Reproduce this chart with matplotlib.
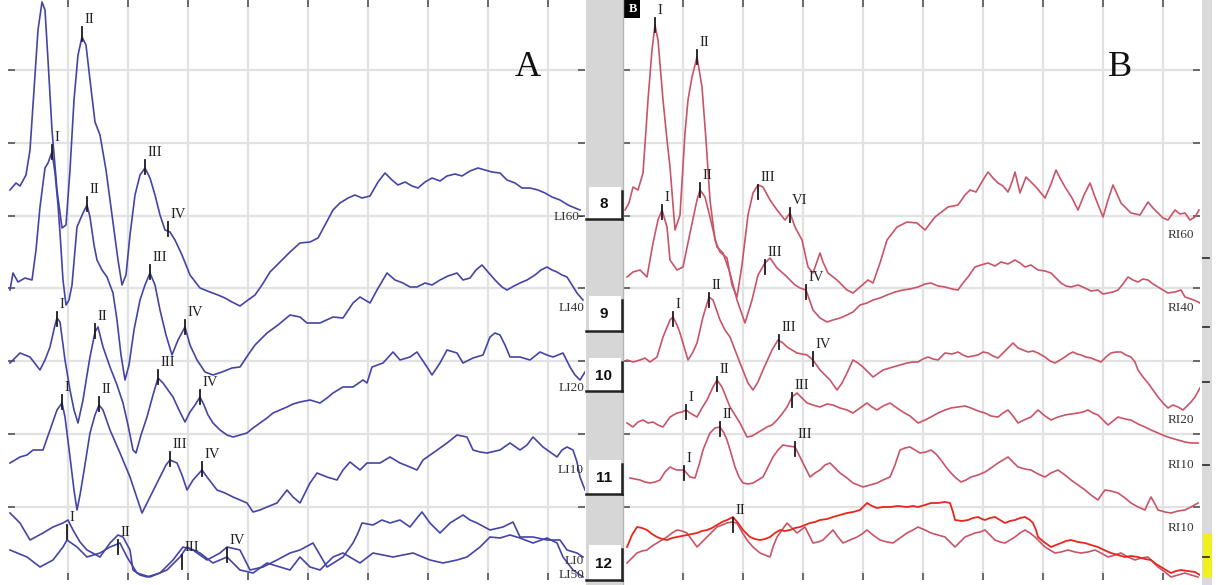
import numpy as np
import matplotlib
matplotlib.use("Agg")
import matplotlib.pyplot as plt
from matplotlib.patches import Rectangle

# sampling: 60 samples per ms, amplitude in uV
FS = 60.0

# ---------------- panel A (left ear) : (sample, uV) ----------------
LI60 = [(2,3.90),(8,3.97),(12,3.94),(18,4.05),(22,4.30),(26,4.90),(30,5.50),(34,5.78),(37,5.70),(40,5.20),
        (44,4.50),(49,3.90),(54,3.52),(58,3.55),(62,4.10),(66,4.80),(70,5.25),(74,5.43),(78,5.35),(82,5.00),
        (87,4.58),(92,4.45),(98,4.10),(104,3.65),(110,3.20),(114,2.95),(118,3.05),(122,3.45),(127,3.85),(132,4.05),
        (137,4.12),(142,4.02),(147,3.85),(152,3.65),(157,3.50),(162,3.48),(167,3.40),(174,3.25),(182,3.05),(192,2.92),
        (202,2.88),(210,2.85),(217,2.82),(224,2.78),(232,2.74),(240,2.80),(247,2.85),(254,2.95),(262,3.08),(272,3.18),
        (282,3.28),(292,3.37),(302,3.38),(310,3.42),(317,3.55),(325,3.70),(332,3.77),(340,3.82),(347,3.85),(354,3.82),
        (362,3.84),(370,3.98),(377,4.07),(384,4.00),(390,3.95),(397,3.98),(404,3.94),(410,3.92),(417,3.98),(424,4.02),
        (432,3.99),(439,4.04),(447,4.06),(454,4.04),(462,4.09),(470,4.12),(477,4.10),(484,4.08),(492,4.07),(499,4.00),
        (507,3.97),(514,3.92),(522,3.92),(530,3.90),(537,3.87),(544,3.83),(552,3.80),(560,3.75),(567,3.72),(572,3.70)]

LI40 = [(2,2.90),(5,3.07),(10,2.98),(17,3.02),(24,3.00),(28,3.30),(32,3.73),(37,4.12),(40,4.17),(44,4.28),
        (47,4.07),(50,3.75),(52,3.47),(55,3.00),(58,2.75),(61,2.80),(64,2.95),(69,3.53),(75,3.67),(79,3.75),
        (82,3.63),(86,3.35),(89,3.20),(94,3.10),(99,3.03),(105,2.87),(109,2.60),(113,2.25),(117,2.00),(121,2.15),
        (126,2.50),(132,2.80),(137,2.95),(142,3.07),(147,2.95),(152,2.70),(158,2.45),(164,2.25),(170,2.40),(177,2.53),
        (182,2.35),(189,2.20),(197,2.08),(205,2.05),(214,2.08),(224,2.12),(232,2.13),(240,2.25),(247,2.35),(259,2.47),
        (270,2.55),(282,2.65),(292,2.63),(299,2.57),(312,2.57),(325,2.63),(335,2.62),(345,2.77),(352,2.83),(362,2.77),
        (369,2.90),(379,3.07),(387,3.00),(395,2.97),(402,2.93),(409,2.93),(417,2.97),(424,2.95),(432,3.00),(440,3.04),
        (449,3.07),(455,3.00),(462,3.02),(468,3.10),(474,3.15),(480,3.08),(487,3.00),(494,2.93),(499,2.90),(506,2.94),
        (512,2.97),(519,3.00),(527,3.05),(533,3.10),(539,3.13),(544,3.10),(549,3.08),(554,3.05),(559,3.03),(564,2.95),
        (569,2.87),(575,2.80)]

LI20 = [(2,2.17),(12,2.27),(22,2.23),(32,2.10),(37,2.20),(42,2.33),(47,2.55),(49,2.62),(52,2.58),(57,2.20),
        (62,1.90),(66,1.70),(70,1.57),(75,1.80),(79,2.05),(82,2.23),(87,2.48),(90,2.53),(95,2.33),(102,2.13),
        (109,1.95),(115,1.77),(120,1.55),(125,1.30),(128,1.27),(133,1.45),(139,1.63),(145,1.85),(150,2.02),(155,1.97),
        (160,1.90),(165,1.83),(171,1.70),(177,1.58),(182,1.68),(187,1.75),(192,1.83),(196,1.75),(200,1.65),(205,1.57),
        (212,1.50),(219,1.45),(225,1.43),(232,1.45),(239,1.47),(245,1.52),(252,1.57),(259,1.62),(265,1.67),(272,1.70),
        (279,1.73),(285,1.76),(292,1.78),(302,1.80),(312,1.77),(319,1.82),(325,1.87),(335,1.93),(345,1.93),(355,2.00),
        (359,1.97),(364,2.13),(375,2.17),(385,2.28),(392,2.20),(402,2.23),(409,2.28),(419,2.13),(424,2.05),(432,2.17),
        (439,2.30),(449,2.27),(455,2.17),(465,2.22),(475,2.25),(482,2.43),(487,2.47),(492,2.45),(497,2.35),(502,2.23),
        (512,2.23),(522,2.20),(532,2.28),(539,2.25),(545,2.23),(555,2.27),(562,2.13),(567,2.05),(572,2.00),(577,2.08)]

LI10 = [(2,1.17),(12,1.23),(19,1.25),(25,1.30),(35,1.30),(42,1.50),(49,1.70),(54,1.77),(57,1.63),(62,1.23),
        (66,0.90),(69,0.70),(72,0.85),(75,1.03),(82,1.47),(87,1.65),(91,1.75),(95,1.70),(102,1.50),(112,1.27),
        (122,1.03),(128,0.85),(134,0.67),(142,0.83),(152,1.03),(158,1.15),(162,1.20),(169,1.17),(174,1.05),(179,0.90),
        (185,1.00),(194,1.10),(199,1.03),(209,0.90),(217,0.87),(225,0.83),(232,0.80),(239,0.77),(245,0.68),(252,0.70),
        (259,0.73),(269,0.77),(279,0.90),(285,0.83),(292,0.77),(297,0.87),(302,0.97),(309,1.07),(319,1.03),(329,1.00),
        (335,1.10),(342,1.18),(347,1.14),(352,1.10),(359,1.17),(372,1.17),(382,1.23),(392,1.17),(402,1.13),(409,1.10),
        (415,1.20),(425,1.27),(432,1.32),(439,1.37),(449,1.45),(459,1.43),(465,1.30),(472,1.28),(479,1.27),(492,1.30),
        (502,1.37),(512,1.30),(519,1.35),(525,1.43),(535,1.33),(542,1.28),(549,1.23),(554,1.30),(559,1.33),(565,1.30),
        (569,1.18),(572,1.03),(577,0.90)]

LI0 = [(2,0.67),(12,0.57),(22,0.40),(35,0.47),(45,0.53),(55,0.57),(60,0.60),(65,0.50),(72,0.38),(79,0.30),
       (92,0.23),(102,0.37),(110,0.45),(115,0.43),(122,0.30),(125,0.10),(132,0.05),(139,0.03),(152,0.07),(165,0.20),
       (175,0.33),(185,0.30),(199,0.20),(212,0.27),(219,0.33),(232,0.30),(242,0.10),(255,0.13),(269,0.20),(282,0.27),
       (292,0.30),(305,0.37),(312,0.25),(319,0.13),(327,0.18),(335,0.23),(345,0.37),(350,0.47),(354,0.57),(365,0.55),
       (374,0.60),(382,0.57),(392,0.60),(402,0.53),(409,0.62),(414,0.68),(422,0.57),(432,0.47),(442,0.57),(455,0.65),
       (462,0.60),(469,0.57),(482,0.50),(495,0.53),(505,0.58),(512,0.43),(525,0.43),(539,0.40),(552,0.40),(559,0.30),
       (569,0.27),(575,0.23)]

LI50 = [(2,0.30),(19,0.23),(32,0.13),(45,0.20),(55,0.33),(59,0.40),(69,0.33),(79,0.23),(92,0.27),(102,0.33),
        (112,0.37),(119,0.23),(129,0.07),(142,0.03),(159,0.10),(172,0.23),(179,0.33),(192,0.27),(205,0.17),(219,0.23),
        (232,0.10),(245,0.07),(259,0.17),(272,0.13),(282,0.10),(292,0.23),(302,0.13),(312,0.10),(325,0.23),(335,0.27),
        (352,0.17),(365,0.27),(385,0.23),(405,0.27),(422,0.20),(435,0.17),(449,0.20),(459,0.23),(472,0.33),(482,0.43),
        (492,0.42),(502,0.45),(512,0.42),(525,0.37),(539,0.42),(549,0.37),(555,0.23),(565,0.10),(575,0.03)]

# ---------------- panel B (right ear) ----------------
RI60 = [(2,3.70),(6,3.77),(10,3.93),(15,3.90),(20,4.07),(23,4.50),(25,4.80),(29,5.30),(32,5.55),(35,5.40),
        (40,4.80),(44,4.40),(47,4.13),(52,3.50),(57,3.65),(62,4.47),(65,4.80),(69,5.03),(74,5.23),(79,4.93),
        (83,4.40),(87,3.80),(92,3.40),(97,3.28),(104,3.22),(109,2.95),(114,2.83),(119,3.15),(125,3.65),(130,3.87),
        (135,3.95),(140,3.93),(147,3.80),(154,3.70),(162,3.60),(167,3.67),(172,3.53),(179,3.40),(185,3.13),(190,3.07),
        (197,3.27),(200,3.18),(205,3.07),(214,3.00),(224,2.90),(230,2.87),(237,2.93),(245,3.00),(250,2.97),(257,3.17),
        (264,3.40),(274,3.53),(284,3.58),(294,3.57),(302,3.50),(312,3.63),(325,3.73),(335,3.75),(342,3.85),(347,3.90),
        (353,3.88),(360,4.00),(365,4.08),(370,4.02),(375,3.97),(380,3.94),(385,3.88),(389,3.98),(392,4.08),(397,3.87),
        (403,4.03),(408,3.98),(413,3.93),(422,3.82),(428,3.96),(433,4.10),(437,4.02),(442,3.93),(449,3.82),(455,3.70),
        (461,3.85),(467,3.97),(472,3.83),(480,3.63),(485,3.80),(490,3.95),(498,3.77),(508,3.67),(517,3.65),(525,3.78),
        (530,3.72),(535,3.67),(540,3.62),(545,3.60),(552,3.70),(557,3.66),(562,3.67),(567,3.60),(572,3.63),(576,3.70)]

RI40 = [(4,3.03),(10,3.08),(17,3.10),(24,3.03),(30,3.37),(35,3.60),(39,3.70),(44,3.53),(47,3.20),(54,3.10),
        (60,3.13),(67,3.47),(74,3.80),(77,3.90),(82,3.83),(87,3.63),(94,3.33),(100,3.27),(107,3.07),(114,2.80),
        (122,2.57),(129,2.80),(135,3.05),(142,3.17),(147,3.22),(154,3.12),(162,3.05),(172,2.95),(177,2.92),(183,2.90),
        (190,2.70),(197,2.62),(204,2.58),(210,2.60),(217,2.62),(224,2.65),(230,2.68),(237,2.75),(244,2.77),(250,2.80),
        (257,2.82),(264,2.85),(272,2.88),(280,2.90),(287,2.91),(295,2.93),(302,2.96),(308,2.97),(315,2.94),(322,2.93),
        (329,2.91),(335,2.90),(340,2.97),(345,3.03),(352,3.13),(358,3.15),(365,3.17),(372,3.14),(378,3.18),(385,3.16),
        (392,3.20),(397,3.17),(402,3.13),(408,3.15),(415,3.10),(422,3.09),(428,3.07),(433,3.02),(438,2.97),(443,2.94),
        (448,2.93),(455,2.95),(462,2.92),(468,2.89),(475,2.90),(480,2.86),(485,2.87),(490,2.88),(495,2.90),(500,2.96),
        (505,3.03),(510,3.00),(515,2.98),(520,3.01),(525,3.00),(530,2.96),(535,2.93),(540,2.90),(545,2.87),(552,2.88),
        (558,2.90),(562,2.83),(568,2.81),(573,2.79),(577,2.77)]

RI20 = [(4,2.20),(10,2.18),(17,2.20),(22,2.22),(27,2.18),(34,2.23),(40,2.43),(47,2.60),(50,2.63),(54,2.55),
        (57,2.47),(65,2.20),(70,2.28),(74,2.37),(80,2.63),(86,2.83),(90,2.80),(97,2.60),(102,2.50),(107,2.43),
        (112,2.30),(117,2.17),(125,1.97),(130,1.90),(135,1.98),(140,2.10),(149,2.30),(155,2.40),(160,2.37),(164,2.33),
        (174,2.27),(184,2.25),(190,2.20),(197,2.10),(207,2.00),(214,1.90),(219,1.97),(224,2.07),(230,2.20),(235,2.17),
        (240,2.13),(245,2.08),(250,2.03),(260,2.10),(270,2.13),(277,2.15),(284,2.17),(290,2.18),(295,2.18),(300,2.21),
        (305,2.23),(310,2.21),(315,2.20),(322,2.27),(329,2.26),(335,2.28),(340,2.25),(345,2.23),(350,2.24),(355,2.25),
        (360,2.28),(365,2.27),(370,2.24),(375,2.22),(380,2.27),(385,2.32),(390,2.37),(395,2.32),(400,2.30),(405,2.28),
        (410,2.29),(415,2.27),(422,2.23),(427,2.19),(432,2.17),(437,2.20),(442,2.23),(446,2.26),(450,2.28),(454,2.26),
        (458,2.25),(463,2.23),(468,2.22),(473,2.20),(478,2.18),(483,2.23),(488,2.27),(493,2.28),(498,2.28),(503,2.25),
        (508,2.23),(512,2.18),(515,2.10),(520,2.03),(525,1.97),(530,1.90),(535,1.83),(540,1.77),(545,1.72),(550,1.75),
        (555,1.73),(560,1.70),(564,1.74),(568,1.78),(572,1.83),(577,1.92)]

RI10a = [(4,1.57),(10,1.53),(15,1.58),(20,1.60),(25,1.57),(30,1.58),(35,1.55),(40,1.53),(47,1.63),(54,1.67),
         (59,1.68),(63,1.70),(67,1.67),(74,1.63),(79,1.72),(84,1.80),(90,1.93),(94,2.00),(99,1.93),(103,1.83),
         (107,1.73),(112,1.65),(117,1.57),(124,1.43),(129,1.44),(134,1.47),(139,1.50),(144,1.53),(149,1.55),(154,1.60),
         (159,1.66),(164,1.73),(169,1.83),(174,1.87),(179,1.82),(184,1.77),(190,1.75),(197,1.73),(204,1.76),(210,1.75),
         (217,1.72),(224,1.70),(230,1.67),(237,1.72),(244,1.77),(249,1.73),(254,1.70),(260,1.74),(267,1.77),(274,1.72),
         (280,1.68),(287,1.64),(295,1.57),(302,1.60),(308,1.63),(315,1.67),(322,1.70),(328,1.72),(335,1.73),(342,1.74),
         (348,1.72),(355,1.69),(362,1.67),(368,1.64),(375,1.63),(380,1.67),(385,1.70),(390,1.64),(395,1.57),(401,1.60),
         (408,1.63),(412,1.67),(415,1.70),(422,1.64),(428,1.60),(435,1.63),(442,1.65),(448,1.66),(455,1.67),(460,1.68),
         (465,1.70),(470,1.67),(475,1.65),(480,1.60),(485,1.55),(490,1.59),(495,1.63),(502,1.61),(508,1.60),(515,1.56),
         (522,1.53),(528,1.50),(535,1.47),(542,1.44),(548,1.42),(555,1.40),(562,1.38),(568,1.37),(575,1.37)]

RI10b = [(7,1.02),(12,1.01),(17,1.00),(22,0.98),(27,0.97),(32,0.98),(37,1.00),(42,1.08),(47,1.13),(51,1.11),
         (54,1.10),(61,1.10),(67,1.03),(72,1.02),(76,1.15),(80,1.30),(84,1.40),(87,1.47),(92,1.52),(97,1.53),
         (101,1.47),(104,1.40),(108,1.27),(112,1.13),(116,1.03),(120,0.97),(125,0.96),(130,0.97),(135,1.00),(140,1.03),
         (145,1.13),(150,1.23),(155,1.30),(160,1.35),(165,1.34),(172,1.33),(177,1.23),(182,1.13),(187,1.03),(192,1.07),
         (197,1.10),(202,1.15),(207,1.17),(212,1.12),(217,1.07),(224,1.02),(230,0.97),(235,0.95),(240,0.93),(247,0.95),
         (254,0.97),(260,1.00),(267,1.03),(272,1.15),(277,1.30),(282,1.32),(287,1.33),(292,1.30),(297,1.27),(303,1.28),
         (308,1.30),(313,1.26),(318,1.20),(323,1.13),(328,1.07),(333,1.02),(338,0.98),(343,1.00),(348,1.03),(355,1.05),
         (362,1.08),(368,1.12),(375,1.17),(380,1.20),(385,1.23),(390,1.18),(395,1.13),(402,1.11),(408,1.10),(415,1.06),
         (422,1.03),(428,1.07),(435,1.10),(442,1.05),(448,1.00),(455,0.95),(462,0.90),(468,0.85),(475,0.80),(479,0.86),
         (482,0.90),(488,0.89),(495,0.87),(502,0.82),(508,0.77),(515,0.73),(522,0.70),(525,0.77),(528,0.83),(532,0.76),
         (535,0.70),(542,0.68),(548,0.67),(555,0.69),(562,0.70),(568,0.73),(575,0.77)]

RI0_red = [(4,0.33),(9,0.45),(14,0.53),(19,0.52),(24,0.50),(29,0.46),(34,0.43),(39,0.41),(44,0.40),(49,0.42),
           (54,0.43),(59,0.44),(64,0.45),(69,0.46),(74,0.47),(79,0.49),(84,0.50),(89,0.52),(94,0.55),(99,0.58),
           (104,0.60),(110,0.63),(115,0.57),(120,0.50),(124,0.46),(127,0.43),(132,0.41),(137,0.40),(142,0.41),(147,0.43),
           (152,0.47),(157,0.50),(162,0.49),(167,0.50),(172,0.52),(177,0.53),(182,0.55),(187,0.57),(192,0.58),(197,0.60),
           (204,0.61),(210,0.63),(217,0.65),(224,0.67),(230,0.68),(237,0.70),(241,0.74),(244,0.77),(249,0.74),(254,0.72),
           (260,0.73),(267,0.73),(275,0.74),(284,0.73),(290,0.74),(295,0.73),(302,0.75),(308,0.77),(315,0.77),(322,0.78),
           (327,0.77),(330,0.68),(332,0.60),(339,0.59),(345,0.60),(350,0.62),(355,0.63),(359,0.61),(362,0.60),(367,0.62),
           (372,0.63),(377,0.60),(382,0.57),(387,0.59),(392,0.60),(397,0.62),(402,0.63),(407,0.60),(410,0.57),(413,0.50),
           (415,0.43),(421,0.38),(428,0.33),(433,0.35),(438,0.37),(443,0.39),(448,0.40),(455,0.38),(462,0.37),(468,0.35),
           (475,0.33),(481,0.30),(488,0.27),(495,0.25),(502,0.23),(508,0.24),(515,0.23),(522,0.21),(528,0.20),(533,0.16),
           (538,0.13),(543,0.10),(548,0.07),(553,0.09),(558,0.10),(565,0.09),(572,0.08),(577,0.05)]

RI0_pink = [(4,0.17),(9,0.22),(14,0.27),(19,0.29),(24,0.30),(29,0.34),(34,0.37),(39,0.40),(44,0.43),(49,0.47),
            (54,0.50),(59,0.49),(64,0.47),(69,0.40),(74,0.33),(79,0.38),(84,0.43),(89,0.48),(94,0.53),(99,0.55),
            (104,0.57),(109,0.58),(114,0.57),(119,0.48),(124,0.40),(130,0.33),(137,0.27),(142,0.25),(147,0.23),(150,0.33),
            (154,0.43),(159,0.50),(164,0.57),(169,0.52),(174,0.47),(178,0.50),(182,0.53),(186,0.45),(190,0.37),(195,0.38),
            (200,0.40),(205,0.45),(210,0.50),(215,0.43),(220,0.37),(227,0.40),(234,0.43),(239,0.46),(244,0.50),(250,0.45),
            (257,0.40),(264,0.38),(270,0.37),(277,0.42),(284,0.47),(290,0.50),(295,0.53),(302,0.50),(308,0.47),(315,0.45),
            (322,0.43),(327,0.38),(332,0.33),(337,0.38),(342,0.43),(347,0.45),(352,0.47),(357,0.48),(362,0.50),(367,0.45),
            (372,0.40),(377,0.38),(382,0.37),(387,0.40),(392,0.43),(397,0.47),(402,0.50),(407,0.47),(412,0.43),(417,0.38),
            (422,0.33),(427,0.30),(432,0.27),(438,0.28),(445,0.30),(452,0.28),(458,0.27),(465,0.28),(472,0.30),(478,0.27),
            (485,0.23),(492,0.25),(498,0.27),(505,0.23),(512,0.20),(518,0.22),(525,0.23),(530,0.18),(535,0.13),(542,0.08),
            (548,0.03),(555,0.05),(562,0.07),(568,0.05),(575,0.03)]

# wave peaks (label, sample, uV)
A_peaks = [("II",74,5.43),("III",137,4.10),("IV",160,3.48),
           ("I",44,4.25),("II",79,3.73),("III",142,3.05),("IV",177,2.50),
           ("I",49,2.58),("II",87,2.46),("III",150,2.00),("IV",192,1.80),
           ("I",54,1.75),("II",91,1.73),("III",162,1.18),("IV",194,1.08),
           ("I",59,0.45),("II",110,0.30),("III",174,0.15),("IV",219,0.22)]
B_peaks = [("I",32,5.52),("II",74,5.20),("III",135,3.85),("VI",167,3.62),
           ("I",39,3.65),("II",77,3.87),("III",142,3.10),("IV",183,2.85),
           ("I",50,2.58),("II",86,2.77),("III",156,2.35),("IV",190,2.18),
           ("I",63,1.65),("II",94,1.93),("III",169,1.77),
           ("I",61,1.04),("II",97,1.48),("III",172,1.28),
           ("II",110,0.52)]

A_labels = [("LI60-",3.63),("LI40",2.72),("LI20",1.92),("LI10",1.10),("LI0",0.19),("LI50",0.05)]
B_labels = [("RI60",3.45),("RI40",2.72),("RI20",1.60),("RI10",1.15),("RI10",0.52)]
box_names = ["8","9","10","11","12"]

BLUE = "#4444a6"
PINK = "#c95468"
RED = "#e8261c"
SERIF = "Liberation Serif"

W, H = 1218, 585
fig = plt.figure(figsize=(W/100, H/100), dpi=100)
fig.patch.set_facecolor("white")


def setup(ax):
    ax.set_xlim(0, 577/FS)
    ax.set_ylim(0, 5.80)
    ax.set_xticks(np.arange(1, 10))
    ax.set_yticks(np.arange(1, 8)*0.729)
    ax.grid(True, color="#e2e2e2", lw=1.6)
    ax.set_axisbelow(True)
    for sp in ax.spines.values():
        sp.set_visible(False)
    ax.tick_params(direction="in", length=5, width=1.2, color="#555555", top=True, right=True,
                   labelleft=False, labelbottom=False)


def trace(ax, pts, color, lw=1.2):
    t = np.array([p[0] for p in pts])/FS
    v = np.array([p[1] for p in pts])
    ax.plot(t, v, color=color, lw=lw, solid_joinstyle="round")


def peaks(ax, plist):
    for lab, s, v in plist:
        t = s/FS
        ax.plot([t, t], [v-0.04, v+0.10], color="#1a1a1a", lw=1.3)
        ax.annotate(lab, (t, v+0.10), xytext=(1.5, 1.0), textcoords="offset points",
                    fontsize=10.5, family=SERIF, color="#222222", ha="left", va="bottom")


axA = fig.add_axes([8/W, 5/H, 577/W, 580/H])
axB = fig.add_axes([623/W, 5/H, 577/W, 580/H])
setup(axA)
setup(axB)

for tr in [LI60, LI40, LI20, LI10, LI0, LI50]:
    trace(axA, tr, BLUE)
for tr in [RI60, RI40, RI20, RI10a, RI10b, RI0_pink]:
    trace(axB, tr, PINK)
trace(axB, RI0_red, RED, lw=1.3)

peaks(axA, A_peaks)
peaks(axB, B_peaks)

for lab, v in A_labels:
    axA.text(576/FS, v, lab, ha="right", va="center", fontsize=9.5, family=SERIF, color="#333333", clip_on=False)
for lab, v in B_labels:
    axB.text(571/FS, v, lab, ha="right", va="center", fontsize=9.5, family=SERIF, color="#333333")

axA.text(520/FS, 5.12, "A", ha="center", va="center", fontsize=26, family=SERIF, color="#111111")
axB.text(497/FS, 5.12, "B", ha="center", va="center", fontsize=26, family=SERIF, color="#111111")

# overlay in pixel units for the instrument frame (strips, channel boxes)
ov = fig.add_axes([0, 0, 1, 1])
ov.set_xlim(0, W)
ov.set_ylim(H, 0)
ov.axis("off")
ov.patch.set_alpha(0)

ov.add_patch(Rectangle((586, 0), 37, H, color="#d6d6d6", lw=0))
ov.plot([623, 623], [0, H], color="#b5b5b5", lw=1)
box_rows = [(187, 219), (296, 331), (358, 391), (460, 494), (545, 580)]
for name, (top, bot) in zip(box_names, box_rows):
    ov.add_patch(Rectangle((589, top), 32, bot-top, facecolor="white", edgecolor="none"))
    ov.plot([586, 622], [bot, bot], color="#222222", lw=1.8)
    ov.plot([621.5, 621.5], [top+4, bot], color="#222222", lw=1.8)
    ov.text(604, (top+bot)/2+1, name, ha="center", va="center", fontsize=11, fontweight="bold",
            family="Liberation Sans", color="#111111")

# right strip with yellow marker
ov.add_patch(Rectangle((1202, 0), 10, H, color="#dadada", lw=0))
ov.add_patch(Rectangle((1203, 533), 9, 44, color="#f0f01c", lw=0))
for yy in [258, 327, 382, 465, 557]:
    ov.plot([1203, 1209], [yy, yy], color="#333333", lw=1.3)

# black channel tag
ov.add_patch(Rectangle((624, 0), 16, 18, color="black", lw=0))
ov.text(633, 9, "B", ha="center", va="center", fontsize=9, fontweight="bold", family=SERIF, color="white")

plt.savefig("out.png", dpi=100)
